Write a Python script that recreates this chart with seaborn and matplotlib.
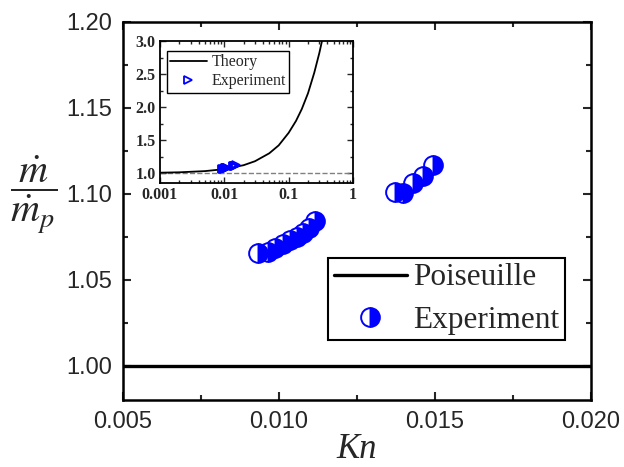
import matplotlib
matplotlib.use('Agg')
import matplotlib.pyplot as plt
import pandas as pd
import seaborn as sns
from matplotlib.ticker import MultipleLocator, FixedLocator, FixedFormatter, LogLocator, NullFormatter
from matplotlib.font_manager import FontProperties

# ---- data ----
kn_exp = [0.00933, 0.00965, 0.00987, 0.01013, 0.01035, 0.01058, 0.01077, 0.01096, 0.01115,
          0.01372, 0.01397, 0.01429, 0.01462, 0.01494]
ratio_exp = [1.0657, 1.0663, 1.0686, 1.0709, 1.0733, 1.0750, 1.0773, 1.0802, 1.0843,
             1.1012, 1.1006, 1.1064, 1.1105, 1.1169]
poiseuille_ratio = 1.0

kn_theory = [0.001, 0.002, 0.005, 0.01, 0.02, 0.03, 0.05, 0.07, 0.1, 0.13, 0.16, 0.2, 0.25, 0.3, 0.34]
ratio_theory = [1.006, 1.012, 1.03, 1.06, 1.12, 1.18, 1.30, 1.42, 1.61, 1.79, 1.97, 2.21, 2.52, 2.82, 3.06]

main_xticks = [0.005, 0.010, 0.015, 0.020]
main_xticklabels = ['0.005', '0.010', '0.015', '0.020']
main_yticks = [1.00, 1.05, 1.10, 1.15, 1.20]
main_yticklabels = ['1.00', '1.05', '1.10', '1.15', '1.20']
inset_xticks = [0.001, 0.01, 0.1, 1]
inset_xticklabels = ['0.001', '0.01', '0.1', '1']
inset_yticks = [1.0, 1.5, 2.0, 2.5, 3.0]
inset_yticklabels = ['1.0', '1.5', '2.0', '2.5', '3.0']

sns.set_style('ticks')
plt.rcParams['font.family'] = ['Liberation Sans', 'DejaVu Sans']
plt.rcParams['mathtext.fontset'] = 'stix'

fig = plt.figure(figsize=(6.24, 4.67), dpi=100)
ax = fig.add_axes([123/624, 1-400/467, 468/624, 378/467])

exp_df = pd.DataFrame({'Kn': kn_exp, 'ratio': ratio_exp})
theory_df = pd.DataFrame({'Kn': kn_theory, 'ratio': ratio_theory})
# one artist per point, drawn right to left so each left marker overlays its right neighbour
exp_df['unit'] = len(exp_df) - exp_df.index

pois_line = ax.axhline(poiseuille_ratio, color='black', lw=2.4, label='Poiseuille', zorder=2)
n_before = len(ax.lines)
sns.lineplot(data=exp_df, x='Kn', y='ratio', units='unit', ax=ax, estimator=None, sort=False,
             color='blue', linestyle='none', marker='o', markersize=13.5,
             fillstyle='right', markerfacecolor='blue', markerfacecoloralt='white',
             markeredgecolor='blue', markeredgewidth=1.4, legend=False, zorder=3)
exp_handle = ax.lines[n_before]

ax.set_xlim(0.005, 0.020)
ax.set_ylim(0.98, 1.20)
ax.xaxis.set_major_locator(FixedLocator(main_xticks))
ax.xaxis.set_major_formatter(FixedFormatter(main_xticklabels))
ax.yaxis.set_major_locator(FixedLocator(main_yticks))
ax.yaxis.set_major_formatter(FixedFormatter(main_yticklabels))
ax.xaxis.set_minor_locator(MultipleLocator(0.0025))
ax.yaxis.set_minor_locator(MultipleLocator(0.025))
ax.tick_params(which='both', direction='in', top=True, right=True, width=1.5, labelsize=17, pad=8)
ax.tick_params(which='major', length=6)
ax.tick_params(which='minor', length=3.5)
for s in ax.spines.values():
    s.set_linewidth(1.8)
    s.set_color('black')

ax.set_xlabel('Kn', fontfamily='Liberation Serif', fontstyle='italic', fontsize=25, labelpad=0)
ax.set_ylabel(r'$\dfrac{\dot{m}}{\dot{m}_p}$', rotation=0, fontsize=29, ha='center', va='center')
ax.yaxis.set_label_coords((34-123)/468, (400-195)/378)

leg = ax.legend([pois_line, exp_handle], ['Poiseuille', 'Experiment'],
                loc='upper left', bbox_to_anchor=(0.438, 0.376),
                prop=FontProperties(family='Liberation Serif', size=22.5),
                frameon=True, fancybox=False, edgecolor='black', framealpha=1,
                handlelength=2.35, borderpad=0.18, labelspacing=0.42, handletextpad=0.2,
                borderaxespad=0, numpoints=1)
leg.get_frame().set_linewidth(1.5)

# ---- inset ----
axin = fig.add_axes([160/624, 1-183/467, 193/624, 142/467])
axin.axhline(poiseuille_ratio, color='gray', ls='--', lw=1.0, zorder=1)
sns.lineplot(data=theory_df, x='Kn', y='ratio', ax=axin, estimator=None, sort=False,
             color='black', lw=1.3, label='Theory', zorder=2)
sns.lineplot(data=exp_df, x='Kn', y='ratio', ax=axin, estimator=None, sort=False,
             color='blue', linestyle='none', marker='>', markersize=6,
             markerfacecolor='none', markeredgecolor='blue', markeredgewidth=1.3,
             label='Experiment', zorder=3)
axin.set_xscale('log')
axin.set_xlim(0.001, 1)
axin.set_ylim(0.85, 3.0)
axin.xaxis.set_major_locator(FixedLocator(inset_xticks))
axin.xaxis.set_major_formatter(FixedFormatter(inset_xticklabels))
axin.xaxis.set_minor_locator(LogLocator(base=10, subs=range(2, 10)))
axin.xaxis.set_minor_formatter(NullFormatter())
axin.yaxis.set_major_locator(FixedLocator(inset_yticks))
axin.yaxis.set_major_formatter(FixedFormatter(inset_yticklabels))
axin.yaxis.set_minor_locator(MultipleLocator(0.25))
axin.tick_params(which='both', direction='in', top=True, right=True, width=1.0, pad=3)
axin.tick_params(which='major', length=4)
axin.tick_params(which='minor', length=2)
for lab in axin.get_xticklabels() + axin.get_yticklabels():
    lab.set_fontfamily('Liberation Serif')
    lab.set_fontweight('bold')
    lab.set_fontsize(11.5)
axin.set_xlabel('')
axin.set_ylabel('')
for s in axin.spines.values():
    s.set_linewidth(1.3)
    s.set_color('black')
leg2 = axin.legend(loc='upper left', bbox_to_anchor=(0.035, 0.93),
                   prop=FontProperties(family='Liberation Serif', size=11.5),
                   frameon=True, fancybox=False, edgecolor='black', framealpha=1,
                   handlelength=2.3, borderpad=0.2, labelspacing=0.2, handletextpad=0.3,
                   borderaxespad=0, numpoints=1)
leg2.get_frame().set_linewidth(1.0)

fig.savefig('out.png', dpi=100)
